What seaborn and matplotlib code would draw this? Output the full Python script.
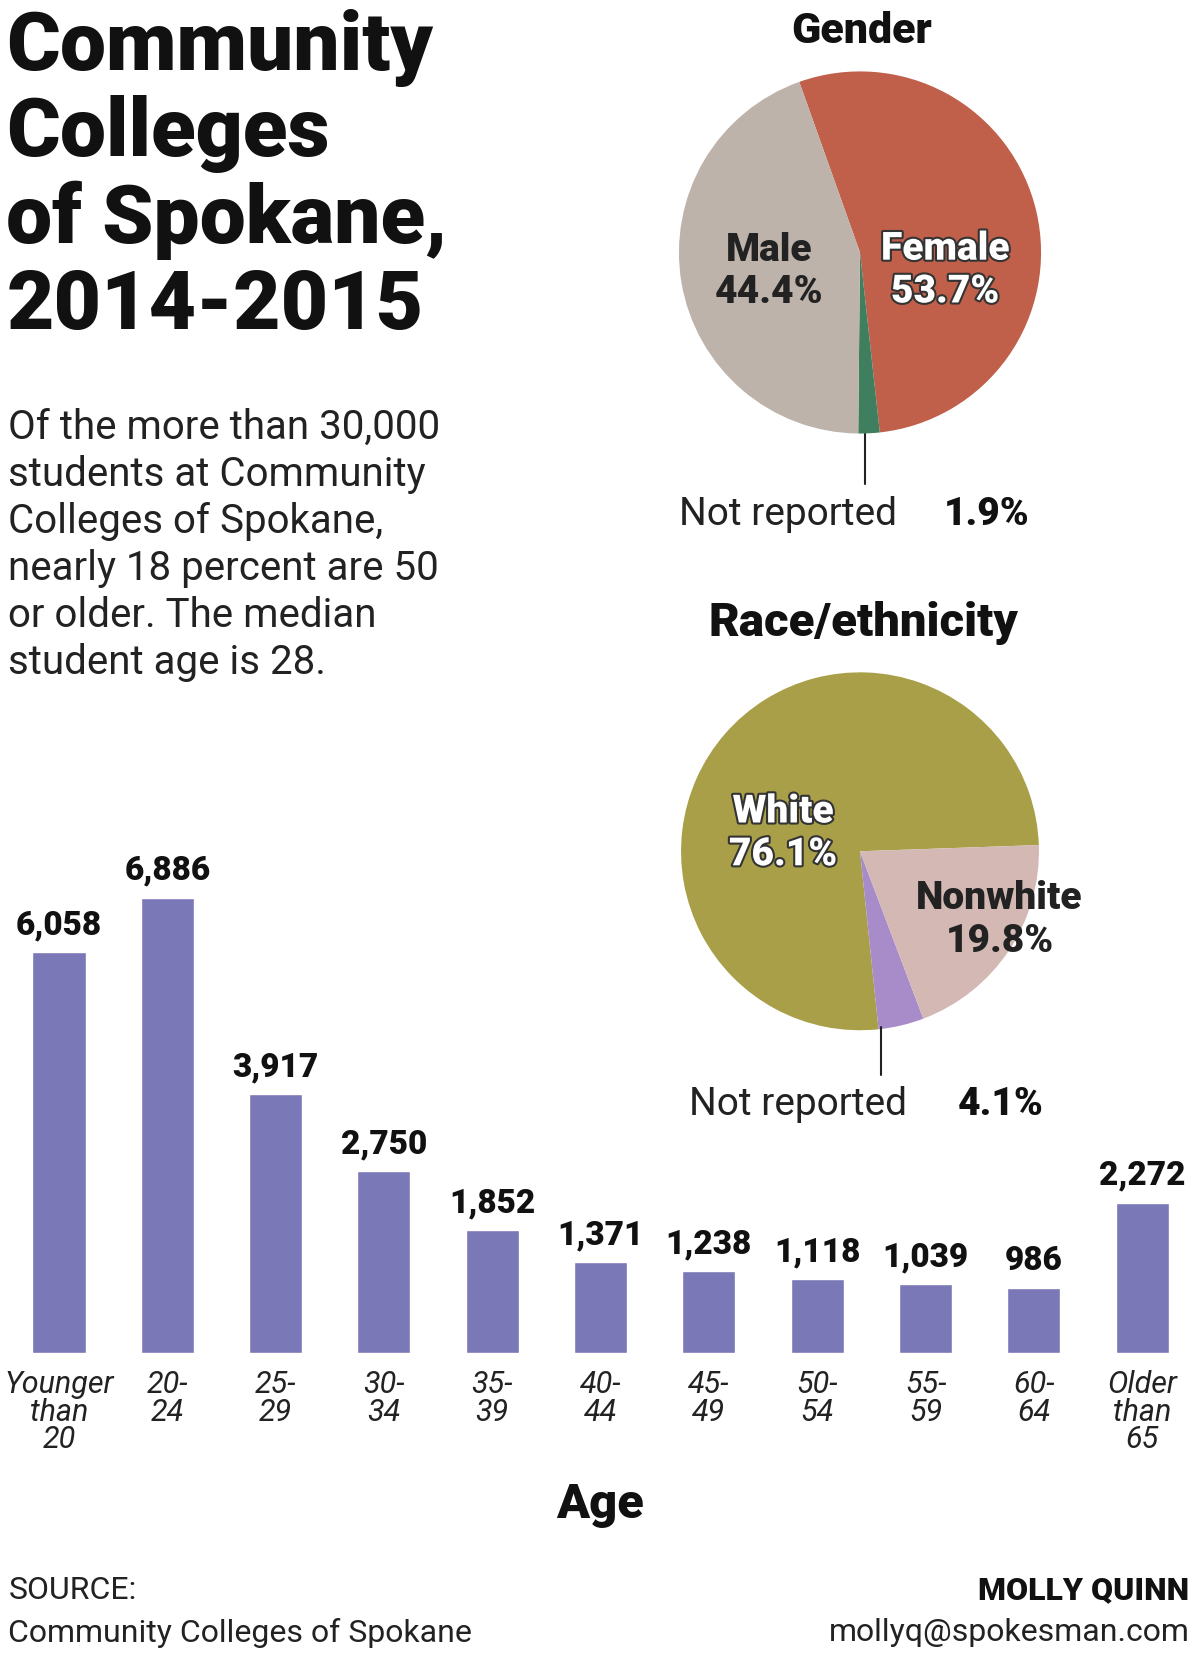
import matplotlib
matplotlib.use("Agg")
import matplotlib.pyplot as plt
import seaborn as sns
import pandas as pd
import matplotlib.patheffects as pe

# data
age_groups = ["Younger\nthan\n20", "20-\n24", "25-\n29", "30-\n34", "35-\n39", "40-\n44",
              "45-\n49", "50-\n54", "55-\n59", "60-\n64", "Older\nthan\n65"]
students = [6058, 6886, 3917, 2750, 1852, 1371, 1238, 1118, 1039, 986, 2272]

gender_labels = ["Female", "Not reported", "Male"]
gender_pct = [53.7, 1.9, 44.4]

race_labels = ["White", "Not reported", "Nonwhite"]
race_pct = [76.1, 4.1, 19.8]

sns.set_theme(style="white")
plt.rcParams['font.family'] = ['Roboto', 'DejaVu Sans']

W, H = 1140, 1568
fig = plt.figure(figsize=(12, 16.56), dpi=100)

def ft(px, py, s, **kw):
    fig.text(px / W, 1 - py / H, s, **kw)

# title + intro
for i, line in enumerate(["Community", "Colleges", "of Spokane,", "2014-2015"]):
    ft(6, 45 + i * 82, line, fontsize=59, fontweight='black', va='center', color='#111111')
intro = ["Of the more than 30,000", "students at Community", "Colleges of Spokane,",
         "nearly 18 percent are 50", "or older. The median", "student age is 28."]
for i, line in enumerate(intro):
    ft(8, 405 + i * 44.5, line, fontsize=29, va='center', color='#222222')

# bar chart
bar_bottom = 1 - 1282 / H
ax = fig.add_axes([0.004, bar_bottom, 0.993, 0.275 * 7600 / 6886])
df = pd.DataFrame({"age": age_groups, "n": students})
sns.barplot(data=df, x="age", y="n", color="#7b78b8", width=0.49, saturation=1, ax=ax)
ax.set_xlim(-0.5, 10.5)
ax.set_ylim(0, 7600)
sns.despine(ax=ax, left=True, bottom=True)
ax.set_xticks([]); ax.set_yticks([]); ax.set_xlabel(""); ax.set_ylabel("")
for i, v in enumerate(students):
    ax.text(i, v + 180, f"{v:,}", ha='center', va='bottom', fontsize=24,
            fontweight='black', color='#111111')
for i, lab in enumerate(age_groups):
    x = (i + 0.5) / 11 * 0.993 + 0.004
    fig.text(x, 1 - 1297 / H, lab, ha='center', va='top', fontsize=22,
             style='italic', color='#222222', linespacing=0.95)
ft(570, 1425, "Age", ha='center', va='center', fontsize=35, fontweight='black', color='#111111')

# pies
def pie_axes(cx, cy, r):
    return fig.add_axes([(cx - r) / W, 1 - (cy + r) / H, 2 * r / W, 2 * r / H])

shadow = [pe.withStroke(linewidth=3, foreground='#333333')]

axg = pie_axes(817, 240, 172)
axg.pie(gender_pct, colors=["#c0604a", "#3f7f5f", "#bdb3ab"], startangle=109.6,
        counterclock=False, wedgeprops=dict(linewidth=0))
axg.set_xlim(-1, 1); axg.set_ylim(-1, 1)
axg.text(-0.5, -0.1, "Male\n44.4%", ha='center', va='center', fontsize=28,
         fontweight='black', color='#222222', linespacing=1.2)
axg.text(0.47, -0.1, "Female\n53.7%", ha='center', va='center', fontsize=28,
         fontweight='black', color='white', linespacing=1.2, path_effects=shadow)
axg.plot([0.03, 0.03], [-1.0, -1.28], color='#222222', lw=1.5, clip_on=False)
ft(819, 30, "Gender", ha='center', va='center', fontsize=31, fontweight='black', color='#111111')
ft(645, 487, "Not reported", ha='left', va='center', fontsize=28, color='#222222')
ft(897, 487, "1.9%", ha='left', va='center', fontsize=28, fontweight='black', color='#111111')

axr = pie_axes(817, 807, 170)
axr.pie(race_pct, colors=["#a89f48", "#a78cc9", "#d4b8b4"], startangle=2,
        counterclock=True, wedgeprops=dict(linewidth=0))
axr.set_xlim(-1, 1); axr.set_ylim(-1, 1)
axr.text(-0.43, 0.1, "White\n76.1%", ha='center', va='center', fontsize=28,
         fontweight='black', color='white', linespacing=1.2, path_effects=shadow)
axr.text(0.78, -0.38, "Nonwhite\n19.8%", ha='center', va='center', fontsize=28,
         fontweight='black', color='#222222', linespacing=1.2)
axr.plot([0.12, 0.12], [-0.98, -1.25], color='#222222', lw=1.5, clip_on=False)
ft(820, 590, "Race/ethnicity", ha='center', va='center', fontsize=34, fontweight='black', color='#111111')
ft(655, 1046, "Not reported", ha='left', va='center', fontsize=28, color='#222222')
ft(910, 1046, "4.1%", ha='left', va='center', fontsize=28, fontweight='black', color='#111111')

# footer
ft(8, 1506, "SOURCE:", va='center', fontsize=23, color='#222222')
ft(8, 1546, "Community Colleges of Spokane", va='center', fontsize=23, color='#222222')
ft(1130, 1506, "MOLLY QUINN", ha='right', va='center', fontsize=23, fontweight='black', color='#111111')
ft(1130, 1546, "mollyq@spokesman.com", ha='right', va='center', fontsize=23, color='#222222')

fig.savefig("out.png", dpi=100, facecolor='white')
